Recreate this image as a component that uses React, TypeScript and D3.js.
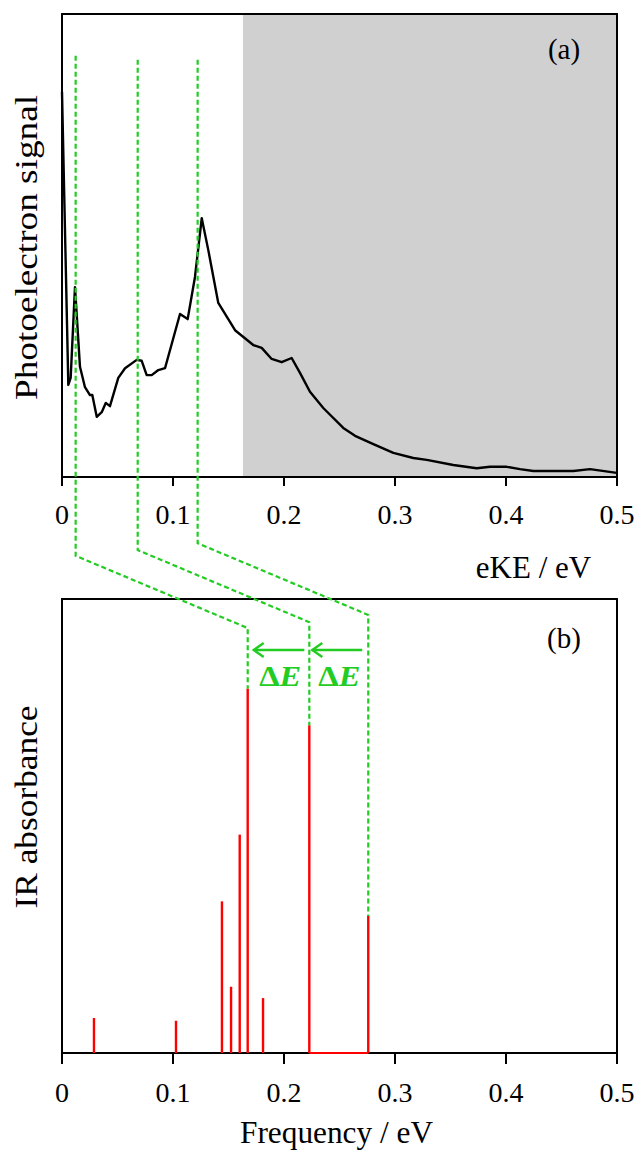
import React from 'react';
import * as d3 from 'd3';

// ---- Data ----
const eKE = [0, 0.0057, 0.0078, 0.0117, 0.0162, 0.0207, 0.0252, 0.0273, 0.0313, 0.0358, 0.0394, 0.0432, 0.0507, 0.0568, 0.0673, 0.0718, 0.0763, 0.0808, 0.0868, 0.0928, 0.1063, 0.1132, 0.1198, 0.1259, 0.1318, 0.1408, 0.1559, 0.1723, 0.1799, 0.1889, 0.1979, 0.2069, 0.2144, 0.2234, 0.2354, 0.2534, 0.2640, 0.2805, 0.2985, 0.3165, 0.3286, 0.3525, 0.3736, 0.3856, 0.4006, 0.4126, 0.4246, 0.4607, 0.4757, 0.4997];
const signal = [83.2, 19.9, 21.4, 41.0, 23.8, 19.4, 17.7, 17.7, 13.0, 14.0, 16.0, 15.3, 21.4, 23.5, 25.3, 25.1, 22.0, 22.0, 23.1, 23.5, 35.2, 34.1, 43.2, 55.9, 49.0, 37.6, 31.7, 28.5, 27.9, 25.5, 24.8, 25.7, 22.5, 18.4, 14.9, 10.6, 8.9, 7.1, 5.2, 4.1, 3.7, 2.6, 1.9, 2.2, 2.2, 1.7, 1.3, 1.3, 1.7, 0.9];

const stickFreq = [0.0288, 0.1027, 0.1441, 0.1523, 0.1601, 0.1673, 0.1811, 0.2228, 0.2759];
const stickAbs = [7.7, 7.1, 33.4, 14.6, 48.1, 80.3, 12.1, 72.2, 30.2];

const shadeStart = 0.163;
const peakEKE = [0.0123, 0.0682, 0.1222];
const guideTop = [91.0, 90.1, 90.1];
const matchedStick = [5, 7, 8];
const diagEnd = [93.6, 94.9, 96.5];

const xTicks = [0, 0.1, 0.2, 0.3, 0.4, 0.5];

// ---- Layout ----
const W = 636, H = 1151;
const L = 62, R = 617;
const aTop = 14, aBot = 477;
const bTop = 599, bBot = 1053;
const slope = 0.42;
const GREEN = '#22cc22';
const FONT = '"Liberation Serif", "Times New Roman", Times, serif';

export default function App() {
  const x = d3.scaleLinear().domain([0, 0.5]).range([L, R]);
  const yA = d3.scaleLinear().domain([0, 100]).range([aBot, aTop]);
  const yB = d3.scaleLinear().domain([0, 100]).range([bBot, bTop]);

  const line = d3.line<number>().x((_, i) => x(eKE[i])).y(d => yA(d));
  const fmt = (d: number) => (d === 0 ? '0' : d3.format('.1f')(d));

  const guides = peakEKE.map((e, i) => {
    const x0 = x(e);
    const sIdx = matchedStick[i];
    const x1 = x(stickFreq[sIdx]);
    const yEnd = yB(diagEnd[i]);
    const yBend = yEnd - slope * (x1 - x0);
    const yStick = yB(stickAbs[sIdx]);
    return `M${x0},${yA(guideTop[i])}L${x0},${yBend}L${x1},${yEnd}L${x1},${yStick}`;
  });

  const arrowY = 650;
  const arrows = [
    { from: x(stickFreq[7]) - 5, to: x(stickFreq[5]) + 6 },
    { from: x(stickFreq[8]) - 6, to: x(stickFreq[7]) + 3 },
  ];

  return (
    <svg width={W} height={H} style={{ position: 'absolute', left: 0, top: 0, background: '#fff' }} fontFamily={FONT}>
      {/* Panel (a) */}
      <rect x={x(shadeStart)} y={aTop} width={R - x(shadeStart)} height={aBot - aTop} fill="#d0d0d0" />
      <path d={line(signal) || ''} fill="none" stroke="#000" strokeWidth={2.4} strokeLinejoin="round" />
      <rect x={L} y={aTop} width={R - L} height={aBot - aTop} fill="none" stroke="#000" strokeWidth={2} />
      {xTicks.map(t => (
        <g key={'ta' + t}>
          <line x1={x(t)} x2={x(t)} y1={aBot} y2={aBot + 9} stroke="#000" strokeWidth={2} />
          <text x={x(t)} y={aBot + 47} fontSize={28} textAnchor="middle">{fmt(t)}</text>
        </g>
      ))}
      <text x={533.5} y={578} fontSize={31} textAnchor="middle">eKE / eV</text>
      <text transform={`translate(37,${(aTop + aBot) / 2 + 2}) rotate(-90)`} fontSize={32} textAnchor="middle" textLength={305} lengthAdjust="spacingAndGlyphs">Photoelectron signal</text>
      <text x={564} y={59} fontSize={29} textAnchor="middle">(a)</text>

      {/* Panel (b) */}
      <rect x={L} y={bTop} width={R - L} height={bBot - bTop} fill="none" stroke="#000" strokeWidth={2} />
      {xTicks.map(t => (
        <g key={'tb' + t}>
          <line x1={x(t)} x2={x(t)} y1={bBot} y2={bBot + 11} stroke="#000" strokeWidth={2} />
          <text x={x(t)} y={bBot + 49} fontSize={28} textAnchor="middle">{fmt(t)}</text>
        </g>
      ))}
      <line x1={x(stickFreq[7])} x2={x(stickFreq[8])} y1={yB(0)} y2={yB(0)} stroke="#ff0000" strokeWidth={2.2} />
      {stickFreq.map((f, i) => (
        <line key={'s' + i} x1={x(f)} x2={x(f)} y1={yB(0)} y2={yB(stickAbs[i])} stroke="#ff0000" strokeWidth={2.4} />
      ))}
      <text x={336.5} y={1143} fontSize={30.5} textAnchor="middle" textLength={193} lengthAdjust="spacingAndGlyphs">Frequency / eV</text>
      <text transform={`translate(37,807) rotate(-90)`} fontSize={32} textAnchor="middle" textLength={203} lengthAdjust="spacingAndGlyphs">IR absorbance</text>
      <text x={564} y={648} fontSize={29} textAnchor="middle">(b)</text>

      {/* Guides */}
      {guides.map((d, i) => (
        <path key={'g' + i} d={d} fill="none" stroke={GREEN} strokeWidth={2.2} strokeDasharray="5 3" />
      ))}
      {arrows.map((a, i) => (
        <g key={'a' + i} stroke={GREEN} strokeWidth={2.4} fill="none">
          <line x1={a.from} x2={a.to} y1={arrowY} y2={arrowY} />
          <path d={`M${a.to + 10},${arrowY - 7}L${a.to},${arrowY}L${a.to + 10},${arrowY + 7}`} />
        </g>
      ))}
      {[x(stickFreq[5]) + 11.5, x(stickFreq[7]) + 9].map((tx, i) => (
        <text key={'de' + i} x={tx} y={686} fontSize={30} fill={GREEN} fontWeight="bold" textLength={42} lengthAdjust="spacingAndGlyphs">
          <tspan>Δ</tspan><tspan fontStyle="italic">E</tspan>
        </text>
      ))}
    </svg>
  );
}
